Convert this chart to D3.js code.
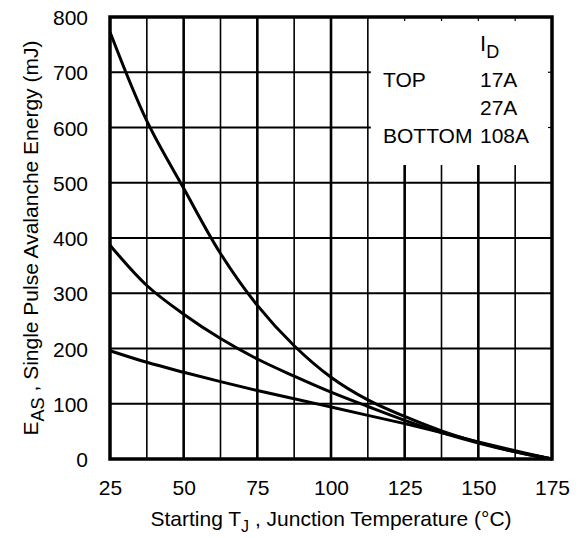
<!DOCTYPE html>
<html>
<head>
<meta charset="utf-8">
<script src="https://cdn.jsdelivr.net/npm/d3@7"></script>
<style>
  html, body { margin: 0; padding: 0; background: #fff; }
  svg { display: block; }
  text { font-family: "Liberation Sans", Arial, Helvetica, sans-serif; fill: #000; }
</style>
</head>
<body>
<svg id="chart" width="579" height="538"></svg>
<script>
// ---- data ----
const temps = [25, 37.5, 50, 62.5, 75, 87.5, 100, 112.5, 125, 137.5, 150, 162.5, 175];
const eas17A  = [773, 612, 490, 372, 278, 205, 148, 107, 77, 51, 30, 13, 0];
const eas27A  = [387, 314, 262, 218, 181, 150, 121, 95, 70, 48, 29, 13, 0];
const eas108A = [196, 175, 157, 140, 124, 109, 94, 79, 64, 48, 31, 15, 0];
const seriesNames = ["17A", "27A", "108A"];
const legendPos = ["TOP", "", "BOTTOM"];
const xTicks = [25, 50, 75, 100, 125, 150, 175];
const yTicks = [0, 100, 200, 300, 400, 500, 600, 700, 800];
const xGrid = [37.5, 50, 62.5, 75, 87.5, 100, 112.5, 125, 137.5, 150, 162.5];
const yGrid = [100, 200, 300, 400, 500, 600, 700];

// ---- layout ----
const pL = 110, pT = 17, pR = 552, pB = 459;
const svg = d3.select("#chart");
const x = d3.scaleLinear().domain([25, 175]).range([pL, pR]);
const y = d3.scaleLinear().domain([0, 800]).range([pB, pT]);

const g = svg.append("g");

// vertical grid
xGrid.forEach(t => {
  const major = (t % 25 === 0);
  const y2 = t > 113 ? y(532) : y(800);
  g.append("line")
    .attr("x1", x(t)).attr("x2", x(t))
    .attr("y1", y(0)).attr("y2", y2)
    .attr("stroke", "#000")
    .attr("stroke-width", major ? 2.6 : 1.6);
  if (t > 113) {
    g.append("line")
      .attr("x1", x(t)).attr("x2", x(t))
      .attr("y1", y(800)).attr("y2", y(800) + 4)
      .attr("stroke", "#000").attr("stroke-width", 1.2);
  }
});

// horizontal grid
yGrid.forEach(v => {
  const x2 = v >= 600 ? x(113.5) : x(175);
  g.append("line")
    .attr("x1", x(25)).attr("x2", x2)
    .attr("y1", y(v)).attr("y2", y(v))
    .attr("stroke", "#000")
    .attr("stroke-width", 2.2);
  if (v >= 600) {
    g.append("line")
      .attr("x1", x(175) - 4).attr("x2", x(175))
      .attr("y1", y(v)).attr("y2", y(v))
      .attr("stroke", "#000").attr("stroke-width", 1.2);
  }
});

// curves
const line = d3.line()
  .x((d, i) => x(temps[i]))
  .y(d => y(d))
  .curve(d3.curveCatmullRom.alpha(0.5));
[eas17A, eas27A, eas108A].forEach(s => {
  g.append("path")
    .attr("d", line(s))
    .attr("fill", "none")
    .attr("stroke", "#000")
    .attr("stroke-width", 3)
    .attr("stroke-linejoin", "round");
});

// frame
g.append("rect")
  .attr("x", pL).attr("y", pT)
  .attr("width", pR - pL).attr("height", pB - pT)
  .attr("fill", "none").attr("stroke", "#000").attr("stroke-width", 3.5);

// axes (labels only, via d3 axis)
const xAxis = d3.axisBottom(x).tickValues(xTicks).tickSize(0).tickPadding(0).tickFormat(d3.format("d"));
const gx = svg.append("g").attr("transform", `translate(0, ${pB})`).call(xAxis);
gx.select(".domain").remove();
gx.selectAll("text").attr("font-size", 21).attr("dy", 0).attr("y", 36)
  .attr("font-family", '"Liberation Sans", Arial, sans-serif').attr("fill", "#000");

const yAxis = d3.axisLeft(y).tickValues(yTicks).tickSize(0).tickPadding(0).tickFormat(d3.format("d"));
const gy = svg.append("g").attr("transform", `translate(${pL}, 0)`).call(yAxis);
gy.select(".domain").remove();
gy.selectAll("text").attr("font-size", 21).attr("x", -22).attr("dy", "0.36em")
  .attr("font-family", '"Liberation Sans", Arial, sans-serif').attr("fill", "#000");

// axis titles
const xt = svg.append("text")
  .attr("x", (pL + pR) / 2).attr("y", 526)
  .attr("text-anchor", "middle").attr("font-size", 21);
xt.append("tspan").text("Starting T");
xt.append("tspan").text("J").attr("font-size", 16).attr("dy", 6);
xt.append("tspan").text(" , Junction Temperature (°C)").attr("dy", -6);

const yt = svg.append("text")
  .attr("transform", `translate(38, ${(pT + pB) / 2}) rotate(-90)`)
  .attr("text-anchor", "middle").attr("font-size", 21);
yt.append("tspan").text("E");
yt.append("tspan").text("AS").attr("font-size", 18).attr("dy", 6);
yt.append("tspan").text(" , Single Pulse Avalanche Energy (mJ)").attr("dy", -6);

// legend
const lg = svg.append("g");
const id = lg.append("text").attr("x", 480).attr("y", 51).attr("font-size", 22);
id.append("tspan").text("I");
id.append("tspan").text("D").attr("font-size", 18).attr("dy", 7);
seriesNames.forEach((n, i) => {
  const yy = 87 + i * 28;
  if (legendPos[i]) {
    lg.append("text").attr("x", 383).attr("y", yy).attr("font-size", 21).text(legendPos[i]);
  }
  lg.append("text").attr("x", 480).attr("y", yy).attr("font-size", 21).text(n);
});
</script>
</body>
</html>
